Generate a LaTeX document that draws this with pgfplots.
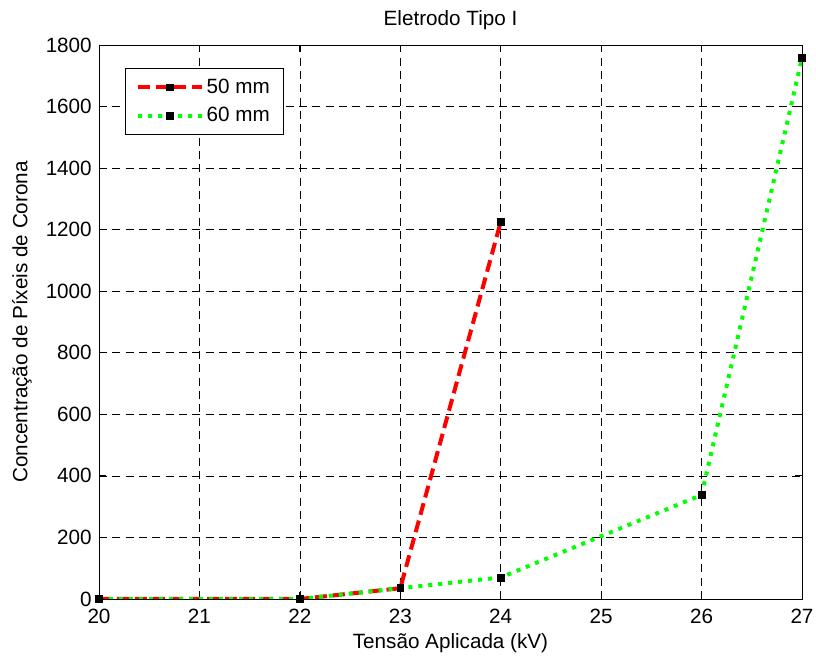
\documentclass[border=0pt]{standalone}
\usepackage{pgfplots}
\pgfplotsset{compat=1.18}
\usepackage{fontspec}
\setmainfont{Liberation Sans}
\definecolor{mred}{RGB}{255,0,0}
\definecolor{mgreen}{RGB}{0,255,0}
\begin{document}
\begin{tikzpicture}
\begin{axis}[
  scale only axis,
  width=527.25pt, height=415.5pt,
  xmin=20, xmax=27, ymin=0, ymax=1800,
  xtick={20,...,27},
  ytick={0,200,...,1800},
  /pgf/number format/assume math mode=true,
  /pgf/number format/1000 sep={},
  tick align=inside,
  tick pos=both,
  major tick length=5.25pt,
  grid=major,
  major grid style={black, dash pattern=on 6pt off 4pt, line width=0.5pt},
  axis line style={black, line width=0.6pt},
  tick style={black, line width=0.6pt},
  ticklabel style={font=\fontsize{15.5}{17}\selectfont},
  xticklabel style={anchor=base, yshift=-18.75pt},
  yticklabel style={anchor=east, inner sep=0pt, xshift=-5.25pt},
  every axis title shift=0pt,
  title={Eletrodo Tipo I},
  title style={font=\fontsize{15.5}{17}\selectfont, anchor=center, at={(axis description cs:0.5,1.0451)}},
  xlabel={Tensão Aplicada (kV)},
  ylabel={Concentração de Píxeis de Corona},
  label style={font=\fontsize{15.5}{17}\selectfont},
  xlabel style={anchor=center, at={(axis description cs:0.5,-0.0794)}},
  ylabel style={anchor=center, at={(axis description cs:-0.1095,0.5)}},
  legend style={at={(axis description cs:0.037,0.9585)}, anchor=north west, draw=black, line width=0.6pt,
    font=\fontsize{15.5}{17}\selectfont, inner xsep=8pt, inner ysep=6pt, row sep=5pt},
  legend cell align=left,
  legend image code/.code={
    \draw[#1, mark=none] (0pt,0pt) -- (48pt,0pt);
    \draw[mark=square*, mark size=2.6pt, mark options={solid, fill=black, draw=black, line width=0.4pt}] plot coordinates {(24pt,0pt)};
  },
  every axis plot/.append style={mark=square*, mark size=2.6pt, mark options={solid, fill=black, draw=black, line width=0.4pt}},
]
\addplot[mred, line width=3pt, dash pattern=on 9pt off 4.5pt] coordinates {
(20,0) (22,0) (23,35) (24,1225)};
\addlegendentry{50 mm}
\addplot[mgreen, line width=3pt, dash pattern=on 3pt off 4.5pt] coordinates {
(20,0) (22,0) (23,35) (24,70) (26,338) (27,1758)};
\addlegendentry{60 mm}
\coordinate (sw) at (rel axis cs:0,0);
\coordinate (ne) at (rel axis cs:1,1);
\end{axis}
\pgfresetboundingbox
\path[use as bounding box] ([shift={(-74.25pt,-44.25pt)}]sw) rectangle ([shift={(10.5pt,33.75pt)}]ne);
\end{tikzpicture}
\end{document}
